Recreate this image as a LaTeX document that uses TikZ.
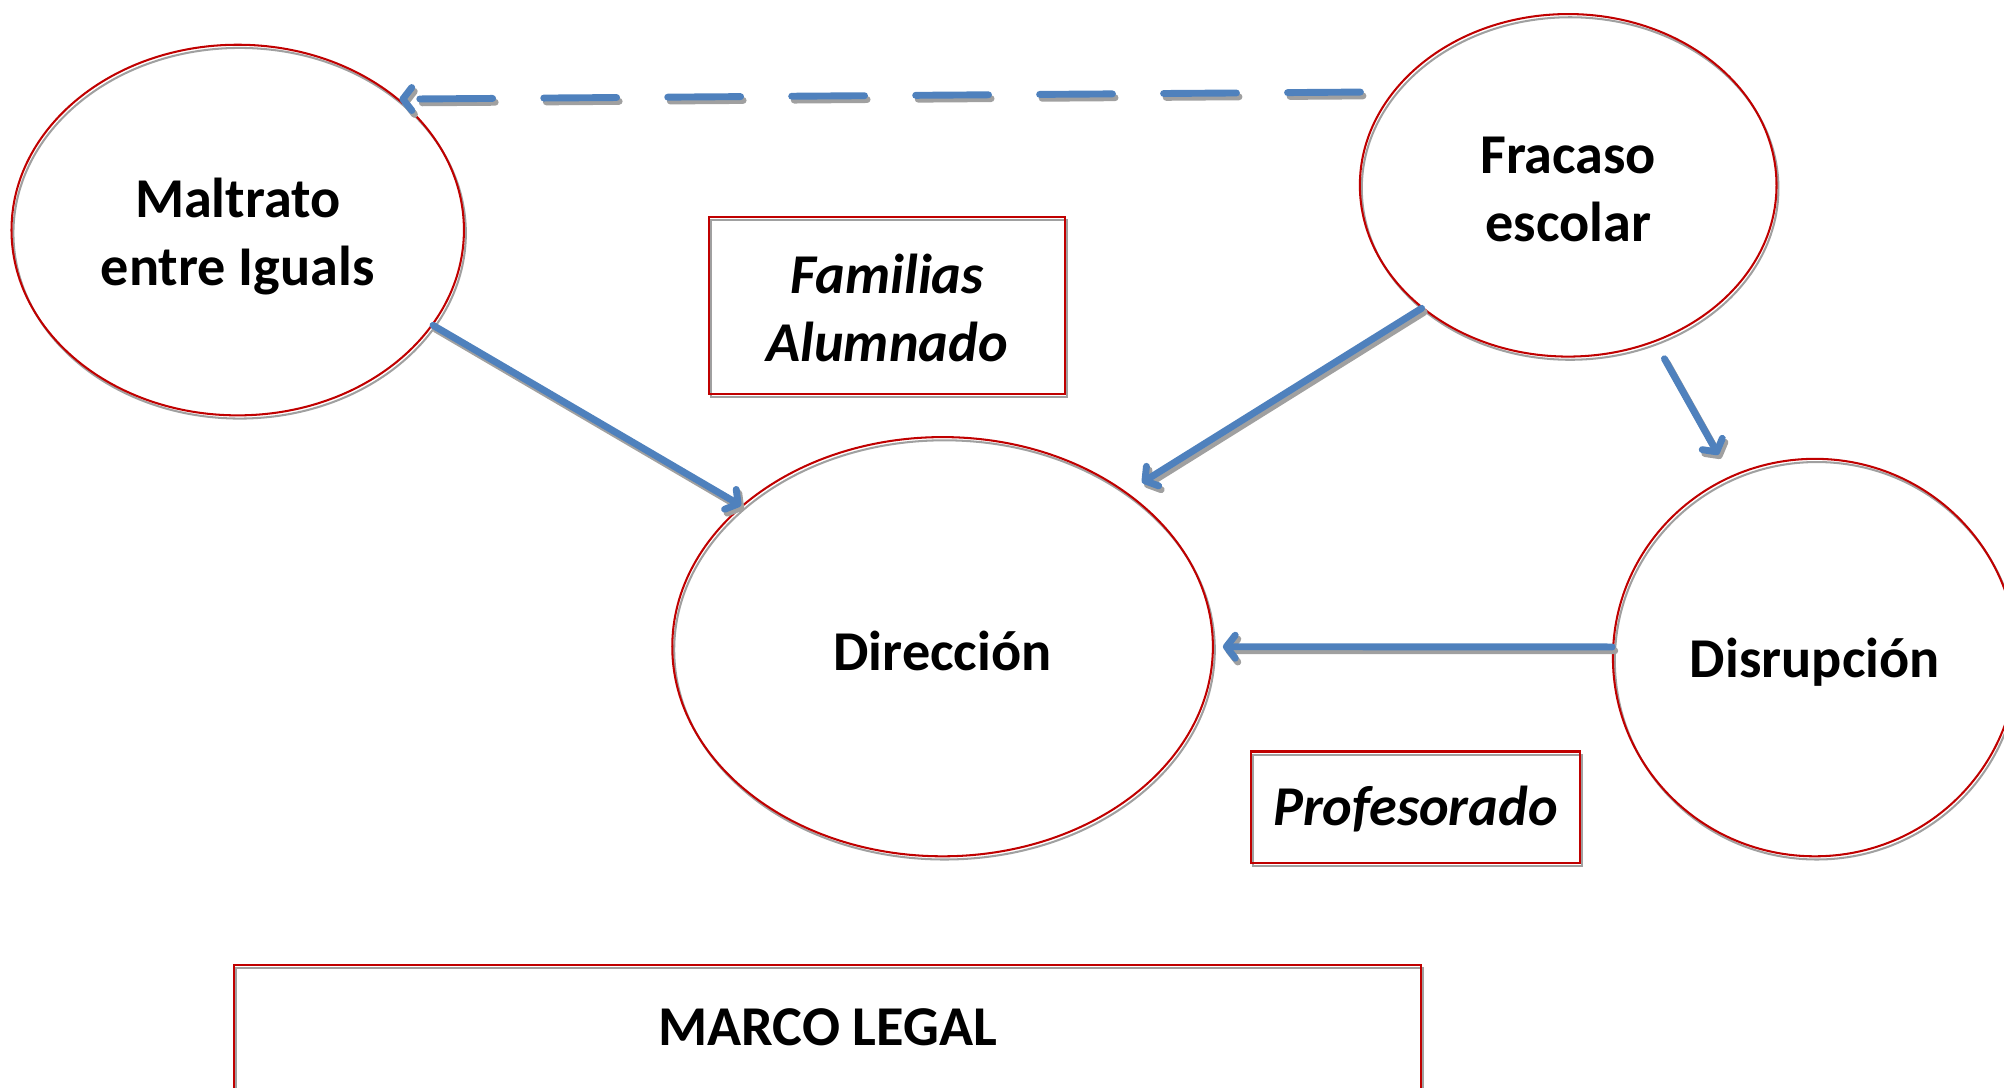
\documentclass[tikz,border=0pt]{standalone}
\usepackage{fontspec}
\newfontfamily\lab{Carlito}
\usetikzlibrary{arrows.meta,shapes.geometric}
\definecolor{ored}{HTML}{C00000}
\definecolor{oblue}{HTML}{4F81BD}
\definecolor{oshadow}{HTML}{A0A0A0}
\tikzset{
  shapeshadow/.style={preaction={draw=oshadow, line width=1.6pt, transform canvas={shift={(1.5pt,-2.5pt)}}}},
  labfont/.style={font=\lab\bfseries\fontsize{44}{53}\selectfont},
  itfont/.style={font=\lab\bfseries\itshape\fontsize{44}{53}\selectfont},
  bubble/.style={ellipse, draw=ored, line width=1.6pt, inner sep=0pt, shapeshadow},
  labelbox/.style={rectangle, draw=ored, line width=1.6pt, inner sep=0pt, shapeshadow},
  txt/.style={inner sep=0pt, align=center, labfont},
  conn/.style={draw=oblue, line width=5.4pt, line cap=round,
    -{Straight Barb[length=7pt,width=18pt,round]}},
}
\newcommand\myconn[3][]{%
  \begin{scope}[transform canvas={shift={(2pt,-3pt)}}]
    \draw[conn, draw=oshadow, #1] (#2) -- (#3);
  \end{scope}
  \draw[conn, #1] (#2) -- (#3);
}
\begin{document}
\begin{tikzpicture}[x=1pt,y=-1pt]
\useasboundingbox (0,0) rectangle (1568,851);
\clip (0,0) rectangle (1568,851);
% shapes
\node[bubble, minimum width=354pt, minimum height=290pt] (maltrato) at (186,180) {};
\node[bubble, minimum width=326pt, minimum height=268pt] (fracaso) at (1227,145) {};
\node[bubble, minimum width=423pt, minimum height=328pt] (direccion) at (737.5,506) {};
\node[bubble, minimum width=316pt, minimum height=311pt] (disrupcion) at (1420,514.5) {};
\node[labelbox, minimum width=278pt, minimum height=138pt] (familias) at (694,239) {};
\node[labelbox, minimum width=257pt, minimum height=87pt] (profesorado) at (1107.5,631.5) {};
\node[labelbox, minimum width=929pt, minimum height=100pt] (marco) at (647.5,805) {};
% texts
\node[txt] (maltratoT) at (186,185) {Maltrato\\entre Iguals};
\node[txt] (fracasoT) at (1227,148) {Fracaso\\escolar};
\node[txt] (direccionT) at (737.5,509) {Dirección};
\node[txt] (disrupcionT) at (1420,518) {Disrupción};
\node[txt, itfont] (familiasT) at (694,241) {Familias\\Alumnado};
\node[txt, itfont] (profesoradoT) at (1107.5,633) {Profesorado};
\node[txt] (marcoT) at (647.5,804) {MARCO LEGAL};
% connectors
\myconn[dash pattern=on 57pt off 40pt, shorten <=25pt]{fracaso.152.4}{maltrato.39.5}
\myconn{maltrato.-26.3}{direccion.145.9}
\myconn[shorten >=14pt]{fracaso.-140.4}{direccion.40.6}
\myconn[shorten <=15pt, shorten >=19pt]{fracaso.-61}{disrupcion.115.8}
\myconn[shorten >=7pt]{disrupcion.177.3}{direccion.-0.3}
\end{tikzpicture}
\end{document}
